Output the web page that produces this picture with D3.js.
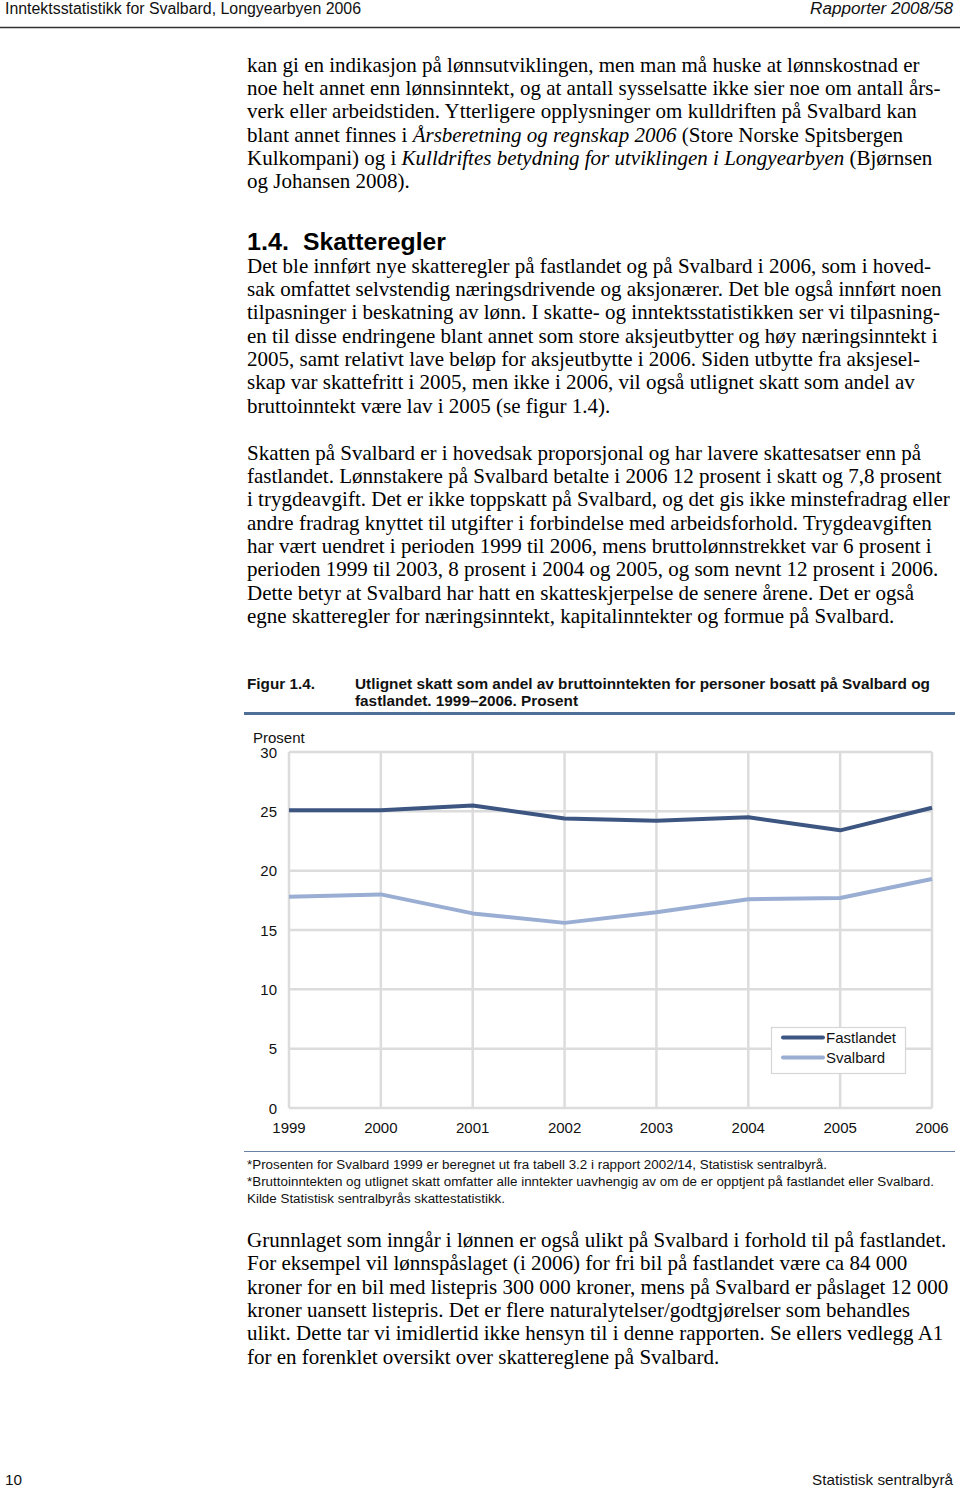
<!DOCTYPE html>
<html>
<head>
<meta charset="utf-8">
<script src="https://cdn.jsdelivr.net/npm/d3@7"></script>
<style>
html,body{margin:0;padding:0;background:#fff;}
svg{display:block;}
</style>
</head>
<body>
<svg id="page" width="960" height="1489"></svg>
<script>
// ---------- DATA ----------
const years = [1999, 2000, 2001, 2002, 2003, 2004, 2005, 2006];
const fastlandet = [25.1, 25.1, 25.5, 24.4, 24.2, 24.5, 23.4, 25.3];
const svalbard = [17.8, 18.0, 16.4, 15.6, 16.5, 17.6, 17.7, 19.3];
const yTicks = [0, 5, 10, 15, 20, 25, 30];
const seriesNames = ["Fastlandet", "Svalbard"];

const headerLeft = "Inntektsstatistikk for Svalbard, Longyearbyen 2006";
const headerRight = "Rapporter 2008/58";
const para1 = [
  "kan gi en indikasjon på lønnsutviklingen, men man må huske at lønnskostnad er",
  "noe helt annet enn lønnsinntekt, og at antall sysselsatte ikke sier noe om antall års-",
  "verk eller arbeidstiden. Ytterligere opplysninger om kulldriften på Svalbard kan",
  "blant annet finnes i *Årsberetning og regnskap 2006* (Store Norske Spitsbergen",
  "Kulkompani) og i *Kulldriftes betydning for utviklingen i Longyearbyen* (Bjørnsen",
  "og Johansen 2008)."
];
const headingNum = "1.4.";
const headingText = "Skatteregler";
const para2 = [
  "Det ble innført nye skatteregler på fastlandet og på Svalbard i 2006, som i hoved-",
  "sak omfattet selvstendig næringsdrivende og aksjonærer. Det ble også innført noen",
  "tilpasninger i beskatning av lønn. I skatte- og inntektsstatistikken ser vi tilpasning-",
  "en til disse endringene blant annet som store aksjeutbytter og høy næringsinntekt i",
  "2005, samt relativt lave beløp for aksjeutbytte i 2006. Siden utbytte fra aksjesel-",
  "skap var skattefritt i 2005, men ikke i 2006, vil også utlignet skatt som andel av",
  "bruttoinntekt være lav i 2005 (se figur 1.4)."
];
const para3 = [
  "Skatten på Svalbard er i hovedsak proporsjonal og har lavere skattesatser enn på",
  "fastlandet. Lønnstakere på Svalbard betalte i 2006 12 prosent i skatt og 7,8 prosent",
  "i trygdeavgift. Det er ikke toppskatt på Svalbard, og det gis ikke minstefradrag eller",
  "andre fradrag knyttet til utgifter i forbindelse med arbeidsforhold. Trygdeavgiften",
  "har vært uendret i perioden 1999 til 2006, mens bruttolønnstrekket var 6 prosent i",
  "perioden 1999 til 2003, 8 prosent i 2004 og 2005, og som nevnt 12 prosent i 2006.",
  "Dette betyr at Svalbard har hatt en skatteskjerpelse de senere årene. Det er også",
  "egne skatteregler for næringsinntekt, kapitalinntekter og formue på Svalbard."
];
const figLabel = "Figur 1.4.";
const figTitle = [
  "Utlignet skatt som andel av bruttoinntekten for personer bosatt på Svalbard og",
  "fastlandet. 1999–2006. Prosent"
];
const yAxisTitle = "Prosent";
const footnotes = [
  "*Prosenten for Svalbard 1999 er beregnet ut fra tabell 3.2 i rapport 2002/14, Statistisk sentralbyrå.",
  "*Bruttoinntekten og utlignet skatt omfatter alle inntekter uavhengig av om de er opptjent på fastlandet eller Svalbard.",
  "Kilde Statistisk sentralbyrås skattestatistikk."
];
const para4 = [
  "Grunnlaget som inngår i lønnen er også ulikt på Svalbard i forhold til på fastlandet.",
  "For eksempel vil lønnspåslaget (i 2006) for fri bil på fastlandet være ca 84 000",
  "kroner for en bil med listepris 300 000 kroner, mens på Svalbard er påslaget 12 000",
  "kroner uansett listepris. Det er flere naturalytelser/godtgjørelser som behandles",
  "ulikt. Dette tar vi imidlertid ikke hensyn til i denne rapporten. Se ellers vedlegg A1",
  "for en forenklet oversikt over skattereglene på Svalbard."
];
const footerLeft = "10";
const footerRight = "Statistisk sentralbyrå";

// ---------- SETUP ----------
const svg = d3.select("#page");
svg.append("rect").attr("width", 960).attr("height", 1489).attr("fill", "#fff");
const SANS = "'Liberation Sans', Arial, sans-serif";
const SERIF = "'Liberation Serif', 'Times New Roman', serif";

// calibrate body font size from first line width
const probe = svg.append("text").attr("font-family", SERIF).attr("font-size", 20).text(para1[0].replace(/\*/g, ""));
const probeW = probe.node().getComputedTextLength();
probe.remove();
const bodyFS = 20 * 673 / probeW;

function sansText(x, y, str, opts) {
  const t = svg.append("text")
    .attr("x", x).attr("y", y)
    .attr("font-family", SANS)
    .attr("font-size", opts.size)
    .attr("fill", opts.fill || "#000")
    .text(str);
  if (opts.weight) t.attr("font-weight", opts.weight);
  if (opts.italic) t.attr("font-style", "italic");
  if (opts.anchor) t.attr("text-anchor", opts.anchor);
  if (opts.width) t.attr("textLength", opts.width).attr("lengthAdjust", "spacingAndGlyphs");
  return t;
}

function bodyLines(lines, firstBaseline, lh) {
  lines.forEach((line, i) => {
    const t = svg.append("text")
      .attr("x", 247).attr("y", firstBaseline + i * lh)
      .attr("font-family", SERIF).attr("font-size", bodyFS).attr("fill", "#000");
    const parts = line.split("*");
    parts.forEach((p, j) => {
      if (!p) return;
      const ts = t.append("tspan").text(p);
      if (j % 2 === 1) ts.attr("font-style", "italic");
    });
  });
}

// ---------- HEADER ----------
sansText(5, 14, headerLeft, {size: 16, width: 356, fill: "#111"});
sansText(953, 14, headerRight, {size: 16, width: 143, anchor: "end", italic: true, fill: "#111"});
svg.append("line").attr("x1", 0).attr("x2", 960).attr("y1", 27.5).attr("y2", 27.5)
  .attr("stroke", "#333").attr("stroke-width", 1.5);

// ---------- BODY ----------
const LH = 23.35;
bodyLines(para1, 71.5, LH);
sansText(247, 249.5, headingNum, {size: 23, weight: "bold", width: 42});
sansText(303, 249.5, headingText, {size: 23, weight: "bold", width: 143});
bodyLines(para2, 272.5, LH);
bodyLines(para3, 459.5, LH);
bodyLines(para4, 1247, LH);

// ---------- FIGURE CAPTION ----------
sansText(247, 688.5, figLabel, {size: 14.5, weight: "bold", width: 68, fill: "#111"});
sansText(355, 688.5, figTitle[0], {size: 14.5, weight: "bold", width: 575, fill: "#111"});
sansText(355, 705.5, figTitle[1], {size: 14.5, weight: "bold", width: 223, fill: "#111"});
svg.append("line").attr("x1", 244).attr("x2", 955).attr("y1", 713.5).attr("y2", 713.5)
  .attr("stroke", "#506f96").attr("stroke-width", 3);

// ---------- CHART ----------
const x = d3.scaleLinear().domain([years[0], years[years.length - 1]]).range([289, 932]);
const y = d3.scaleLinear().domain([0, 30]).range([1108, 752]);
const grid = svg.append("g");
grid.selectAll("line.h").data(yTicks).join("line")
  .attr("x1", x.range()[0]).attr("x2", x.range()[1])
  .attr("y1", d => y(d)).attr("y2", d => y(d))
  .attr("stroke", "#dcdcdc").attr("stroke-width", 2.5);
grid.selectAll("line.v").data(years).join("line")
  .attr("x1", d => x(d)).attr("x2", d => x(d))
  .attr("y1", y(0)).attr("y2", y(30))
  .attr("stroke", "#dcdcdc").attr("stroke-width", 2.5);

// y tick labels
svg.append("g").selectAll("text").data(yTicks).join("text")
  .attr("x", 277).attr("y", d => y(d) + 5.5)
  .attr("text-anchor", "end")
  .attr("font-family", SANS).attr("font-size", 15).attr("fill", "#111")
  .text(d => d);
sansText(253, 742.5, yAxisTitle, {size: 15, fill: "#111"});

// x tick labels
svg.append("g").selectAll("text").data(years).join("text")
  .attr("x", d => x(d)).attr("y", 1132.5)
  .attr("text-anchor", "middle")
  .attr("font-family", SANS).attr("font-size", 15).attr("fill", "#111")
  .text(d => d);

const colors = ["#3d5681", "#9aaed3"];
const seriesData = [fastlandet, svalbard];
const lineGen = d3.line().x(d => x(d[0])).y(d => y(d[1]));
seriesData.forEach((vals, i) => {
  svg.append("path")
    .datum(years.map((yr, k) => [yr, vals[k]]))
    .attr("d", lineGen)
    .attr("fill", "none")
    .attr("stroke", colors[i])
    .attr("stroke-width", 4)
    .attr("stroke-linejoin", "round");
});

// legend
const lg = svg.append("g");
lg.append("rect").attr("x", 771.5).attr("y", 1027.5).attr("width", 134).attr("height", 46)
  .attr("fill", "#fff").attr("stroke", "#d6d6d6").attr("stroke-width", 1.2);
seriesNames.forEach((n, i) => {
  const yy = 1037.5 + i * 20;
  lg.append("line").attr("x1", 783).attr("x2", 823).attr("y1", yy).attr("y2", yy)
    .attr("stroke", colors[i]).attr("stroke-width", 4).attr("stroke-linecap", "round");
  lg.append("text").attr("x", 826).attr("y", yy + 5.5)
    .attr("font-family", SANS).attr("font-size", 15).attr("fill", "#111").text(n);
});

// footnote rule + notes
svg.append("line").attr("x1", 244).attr("x2", 955).attr("y1", 1151.5).attr("y2", 1151.5)
  .attr("stroke", "#6a82a3").attr("stroke-width", 1.2);
const fnW = [580, 687, 258];
footnotes.forEach((f, i) => {
  sansText(247, 1168.5 + i * 17, f, {size: 12.5, width: fnW[i], fill: "#111"});
});

// ---------- FOOTER ----------
sansText(5, 1484.5, footerLeft, {size: 15, width: 17, fill: "#111"});
sansText(953, 1484.5, footerRight, {size: 15, width: 141, anchor: "end", fill: "#111"});
</script>
</body>
</html>
